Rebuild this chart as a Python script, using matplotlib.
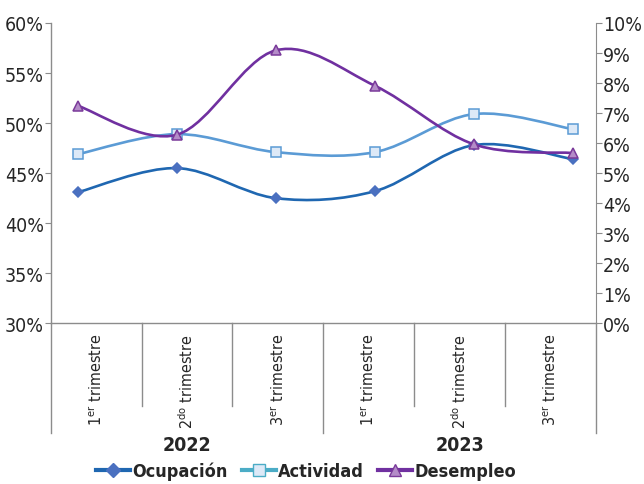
import numpy as np
import matplotlib
matplotlib.use('Agg')
import matplotlib.pyplot as plt
from matplotlib.path import Path
from matplotlib.patches import PathPatch
from matplotlib.lines import Line2D
import matplotlib.transforms as mtransforms

plt.rcParams['font.family'] = ['DejaVu Sans']
plt.rcParams['font.stretch'] = 'condensed'
plt.rcParams['mathtext.fontset'] = 'custom'
plt.rcParams['mathtext.rm'] = 'DejaVu Sans:stretch=condensed'

# data
quarters = [r'1$^{\rm er}$ trimestre', r'2$^{\rm do}$ trimestre', r'3$^{\rm er}$ trimestre',
            r'1$^{\rm er}$ trimestre', r'2$^{\rm do}$ trimestre', r'3$^{\rm er}$ trimestre']
years = ['2022', '2023']
ocupacion = [43.1, 45.5, 42.5, 43.2, 47.8, 46.4]      # left axis, %
actividad = [46.9, 48.9, 47.1, 47.1, 50.9, 49.4]      # left axis, %
desempleo = [7.24, 6.28, 9.09, 7.91, 5.96, 5.67]      # right axis, %
left_ticks = [30, 35, 40, 45, 50, 55, 60]
right_ticks = list(range(0, 11))

GRAY = '#8c8c8c'
TXT = '#262626'


def smooth_path(xs, ys):
    pts = np.column_stack([xs, ys]).astype(float)
    ext = np.vstack([pts[0], pts, pts[-1]])
    verts = [pts[0]]
    codes = [Path.MOVETO]
    for i in range(len(pts) - 1):
        p0, p1, p2, p3 = ext[i], ext[i + 1], ext[i + 2], ext[i + 3]
        verts += [p1 + (p2 - p0) / 6, p2 - (p3 - p1) / 6, p2]
        codes += [Path.CURVE4] * 3
    return Path(verts, codes)


fig = plt.figure(figsize=(6.44, 4.85), dpi=100)
rect = [50.7 / 644, 1 - 324.3 / 485, (596 - 50.7) / 644, (324.3 - 24) / 485]

# base axes: categories + left scale
ax = fig.add_axes(rect)
ax.set_xlim(0, 6)
ax.set_ylim(30, 60)
ax.set_yticks(left_ticks)
ax.set_yticklabels([f'{v}%' for v in left_ticks])
for s in ['top', 'right']:
    ax.spines[s].set_visible(False)
for s in ['left', 'bottom']:
    ax.spines[s].set_color(GRAY)
    ax.spines[s].set_linewidth(1.0)
ax.tick_params(axis='y', colors=GRAY, labelcolor=TXT, labelsize=14, length=4, pad=1)
ax.set_xticks(np.arange(len(quarters)) + 0.5)
ax.set_xticklabels(quarters, rotation=90, va='top', ha='center', fontsize=11.5, color=TXT)
ax.tick_params(axis='x', length=0, pad=7)

trans = mtransforms.blended_transform_factory(ax.transData, ax.transAxes)
for i in range(len(quarters) + 1):
    bottom = -0.365 if i % 3 == 0 else -0.275
    ax.plot([i, i], [0, bottom], color=GRAY, lw=1.0, transform=trans, clip_on=False)
for k, yr in enumerate(years):
    ax.text(1.5 + 3 * k, -0.405, yr, transform=trans, ha='center', va='center',
            fontsize=14, fontweight='bold', color=TXT)

# overlay for left-scale lines (series axis is offset from category axis)
xline = np.arange(len(ocupacion))
xl = (-0.275, 5.234)
axo = fig.add_axes(rect)
axo.set_xlim(*xl)
axo.set_ylim(30, 60)
axo.axis('off')

# right axis overlay
axr = fig.add_axes(rect)
axr.set_xlim(*xl)
axr.set_ylim(0, 10)
axr.patch.set_visible(False)
for s in ['top', 'left', 'bottom']:
    axr.spines[s].set_visible(False)
axr.spines['right'].set_color(GRAY)
axr.yaxis.tick_right()
axr.set_xticks([])
axr.set_yticks(right_ticks)
axr.set_yticklabels([f'{v}%' for v in right_ticks])
axr.tick_params(axis='y', colors=GRAY, labelcolor=TXT, labelsize=14, length=4, pad=1)

series = [
    (axo, ocupacion, '#1f67b1', 'D', '#4a70c0', '#4a70c0', 5.5),
    (axo, actividad, '#5b9bd5', 's', '#dde9f7', '#5b9bd5', 6.5),
    (axr, desempleo, '#7030a0', '^', '#b48cc8', '#7a3a9a', 7),
]
for a, vals, lc, mk, mfc, mec, ms in series:
    a.add_patch(PathPatch(smooth_path(xline, vals), fill=False, edgecolor=lc,
                          lw=1.9, capstyle='round', zorder=2))
    a.plot(xline, vals, linestyle='none', marker=mk, ms=ms, mfc=mfc, mec=mec,
           mew=1.1, zorder=3, clip_on=False)

handles = [
    Line2D([], [], color='#1f67b1', lw=3, marker='D', ms=7, mfc='#4a70c0', mec='#4a70c0'),
    Line2D([], [], color='#4bacc6', lw=3, marker='s', ms=8, mfc='#dde9f7', mec='#4bacc6'),
    Line2D([], [], color='#7030a0', lw=3, marker='^', ms=8, mfc='#b48cc8', mec='#7a3a9a'),
]
leg = fig.legend(handles, ['Ocupación', 'Actividad', 'Desempleo'], loc='center',
                 bbox_to_anchor=(0.475, 0.027), ncol=3, frameon=False,
                 handlelength=1.9, handletextpad=0.1, columnspacing=0.8,
                 prop={'size': 13, 'weight': 'bold', 'stretch': 'condensed'})
for t in leg.get_texts():
    t.set_color(TXT)

fig.savefig('out.png', dpi=100)
